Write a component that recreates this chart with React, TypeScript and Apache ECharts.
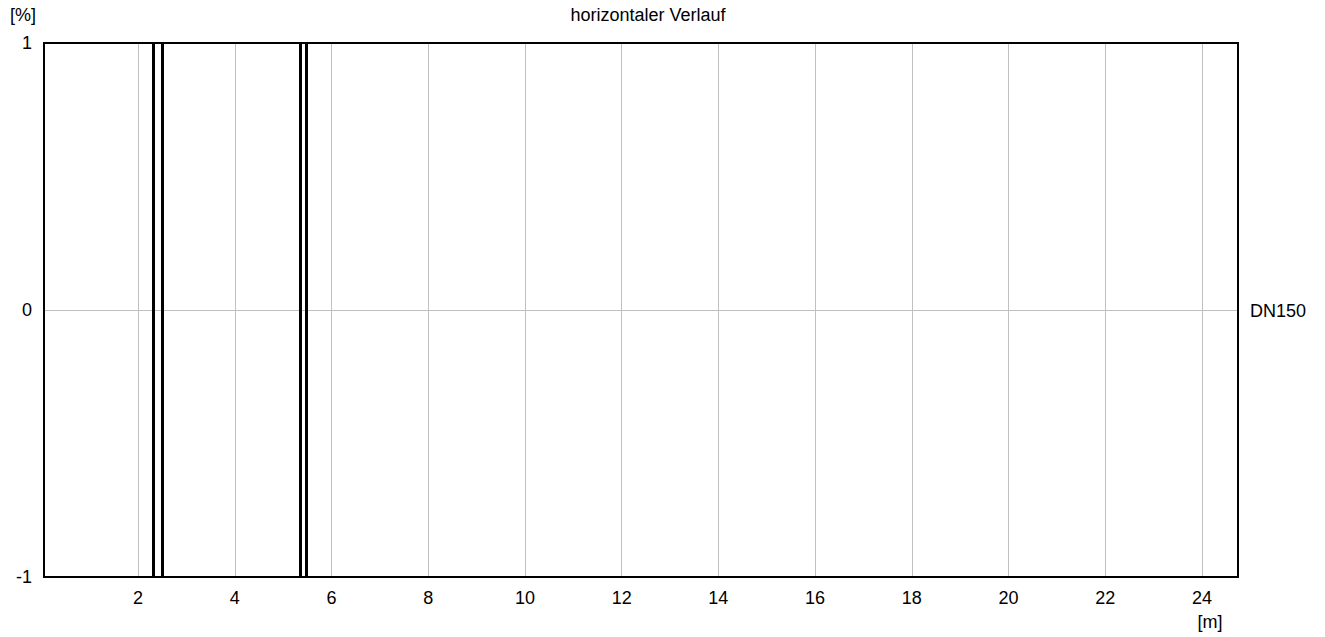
import React, { useEffect, useRef } from "react";
import * as echarts from "echarts";

const xTicks = [2, 4, 6, 8, 10, 12, 14, 16, 18, 20, 22, 24];
const yTicks = [-1, 0, 1];
const xMin = 0.055;
const xMax = 24.745;
const verticalLineXs = [2.31, 2.505, 5.364, 5.48];
const titleText = "horizontaler Verlauf";
const seriesLabel = "DN150";
const xUnit = "[m]";
const yUnit = "[%]";

export default function App() {
  const ref = useRef<HTMLDivElement>(null);
  useEffect(() => {
    document.body.style.margin = "0";
    const chart = echarts.init(ref.current!, null, { renderer: "svg" });
    const font = "Arial, 'Liberation Sans', sans-serif";
    const fs = 18;
    chart.setOption({
      animation: false,
      backgroundColor: "#ffffff",
      textStyle: { fontFamily: font },
      grid: {
        left: 44,
        right: 87,
        top: 43,
        bottom: 60,
        show: true,
        borderColor: "#000",
        borderWidth: 2,
        backgroundColor: "transparent",
        z: 3,
      },
      xAxis: {
        type: "value",
        min: xMin,
        max: xMax,
        axisLine: { show: false },
        axisTick: { show: false, customValues: xTicks },
        axisLabel: {
          customValues: xTicks,
          color: "#000",
          fontSize: fs,
          fontFamily: font,
          margin: 12,
        },
        splitLine: { show: true, lineStyle: { color: "#c0c0c0", width: 1 } },
      },
      yAxis: {
        type: "value",
        min: -1,
        max: 1,
        interval: 1,
        axisLine: { show: false },
        axisTick: { show: false, customValues: yTicks },
        axisLabel: {
          customValues: yTicks,
          color: "#000",
          fontSize: fs,
          fontFamily: font,
          margin: 12,
        },
        splitLine: { show: true, lineStyle: { color: "#c0c0c0", width: 1 } },
      },
      series: [
        {
          type: "line",
          data: [],
          markLine: {
            silent: true,
            symbol: ["none", "none"],
            label: { show: false },
            lineStyle: { color: "#000", width: 3, type: "solid" },
            data: verticalLineXs.map((x) => ({ xAxis: x })),
          },
        },
      ],
      graphic: [
        {
          type: "text",
          x: 648,
          y: 15,
          style: {
            text: titleText,
            fontSize: fs,
            fontFamily: font,
            fill: "#000",
            textAlign: "center",
            textVerticalAlign: "middle",
          },
        },
        {
          type: "text",
          x: 23,
          y: 15,
          style: {
            text: yUnit,
            fontSize: fs,
            fontFamily: font,
            fill: "#000",
            textAlign: "center",
            textVerticalAlign: "middle",
          },
        },
        {
          type: "text",
          x: 1210,
          y: 622,
          style: {
            text: xUnit,
            fontSize: fs,
            fontFamily: font,
            fill: "#000",
            textAlign: "center",
            textVerticalAlign: "middle",
          },
        },
        {
          type: "text",
          x: 1250,
          y: 311,
          style: {
            text: seriesLabel,
            fontSize: fs,
            fontFamily: font,
            fill: "#000",
            textAlign: "left",
            textVerticalAlign: "middle",
          },
        },
      ],
    });
    return () => chart.dispose();
  }, []);
  return (
    <div
      ref={ref}
      style={{ position: "fixed", left: 0, top: 0, width: 1325, height: 637 }}
    />
  );
}
